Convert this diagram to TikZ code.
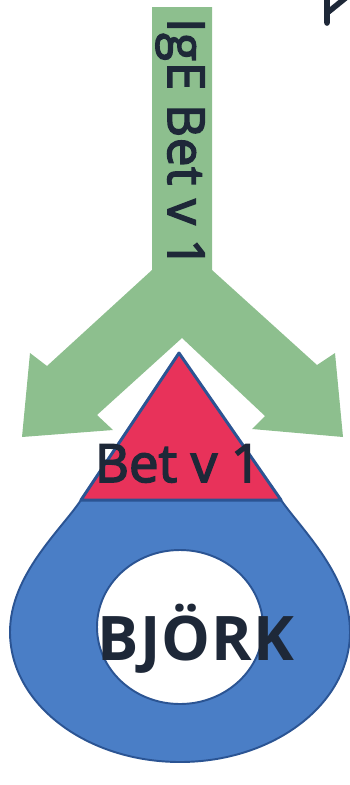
\documentclass[tikz,border=0pt]{standalone}
\usepackage{fontspec}
\setmainfont{Open Sans}
\usepackage{xcolor}
\definecolor{igegreen}{HTML}{8DBF8E}
\definecolor{allergenred}{HTML}{E8325A}
\definecolor{pollenblue}{HTML}{4A7EC6}
\definecolor{edgeblue}{HTML}{2B5493}
\definecolor{ink}{HTML}{1E2838}

\begin{document}
\begin{tikzpicture}[x=0.02cm, y=-0.02cm,
    txt/.style={text=ink, inner sep=0pt}]
    \useasboundingbox (0,0) rectangle (350,785);

    % IgE antibody
    \fill[igegreen] (152,7) -- (212,7) -- (212,270) -- (317,365) -- (335,353) -- (343,437) -- (252,429) -- (265,416) -- (182,338)
        -- (97,415) -- (113,430) -- (22,437) -- (30,353) -- (47,366) -- (152,270) -- cycle;
    \node[txt, rotate=-90, anchor=base, font=\fontsize{29}{31}\selectfont\addfontfeature{FakeBold=3,LetterSpace=1.5}] (ige) at (168,143) {IgE Bet v 1};

    % Pollen grain
    \filldraw[pollenblue, draw=edgeblue, line width=1.1pt] (81,500) -- (281,500) .. controls (302,530) and (350,575) .. (350,632)
        arc[start angle=0, end angle=180, x radius=170, y radius=130] .. controls (10,575) and (61,530) .. (81,500) -- cycle;
    \filldraw[white, draw=edgeblue, line width=1.1pt] (180,627) ellipse [x radius=83, y radius=77];

    % Allergen
    \filldraw[allergenred, draw=edgeblue, line width=1.7pt, line join=round] (179,353) -- (281,500) -- (81,500) -- cycle;

    \node[txt, anchor=base, font=\fontsize{30}{32}\selectfont\addfontfeature{FakeBold=3}] (bet) at (178,482) {Bet v 1};
    \node[txt, anchor=base, font=\fontsize{35}{37}\selectfont\bfseries\addfontfeature{LetterSpace=2}] (bjork) at (196,660) {BJÖRK};

    % Corner mark
    \draw[ink, line width=3.2pt, line cap=round, line join=round] (327,-2) -- (327,23) (327,13) -- (348,-4);
\end{tikzpicture}
\end{document}
